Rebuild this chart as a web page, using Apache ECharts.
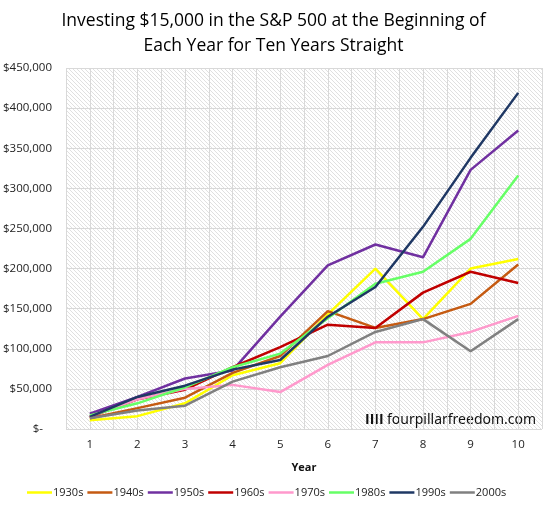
<!DOCTYPE html>
<html><head><meta charset="utf-8">
<script src="https://cdn.jsdelivr.net/npm/echarts@6/dist/echarts.min.js"></script>
<style>html,body{margin:0;padding:0;background:#fff}#c{width:547px;height:511px}</style>
</head><body><div id="c"></div>
<script>
var years = [1,2,3,4,5,6,7,8,9,10];
var decades = ['1930s','1940s','1950s','1960s','1970s','1980s','1990s','2000s'];
var s1930 = [11000, 16000, 32000, 67000, 82000, 143000, 200000, 137000, 200000, 212000];
var s1940 = [13500, 26000, 39000, 70000, 91000, 147000, 126000, 137000, 156000, 205000];
var s1950 = [19000, 40000, 63000, 73000, 140000, 204000, 230000, 214000, 323000, 372000];
var s1960 = [15000, 37000, 49000, 77000, 102000, 130000, 126000, 170000, 196000, 182000];
var s1970 = [15500, 37000, 50000, 55000, 46000, 80000, 108000, 108000, 121000, 141000];
var s1980 = [17000, 32000, 52000, 77000, 94000, 138000, 181000, 196000, 237000, 316000];
var s1990 = [15000, 40000, 54000, 74000, 86000, 140000, 177000, 252000, 338000, 419000];
var s2000 = [13500, 23000, 29000, 59000, 77000, 91000, 121000, 137000, 97000, 137000];
var yTicks = [0,50000,100000,150000,200000,250000,300000,350000,400000,450000];

var seriesValues = [s1930, s1940, s1950, s1960, s1970, s1980, s1990, s2000];
var colors = ['#FFFF00','#C55A11','#7030A0','#C00000','#FF99CC','#66FF66','#1F3864','#808080'];

var pc = document.createElement('canvas');
pc.width = 4; pc.height = 4;
var px = pc.getContext('2d');
px.fillStyle = '#ffffff'; px.fillRect(0,0,4,4);
px.fillStyle = '#e0e0e0';
for (var i=0;i<4;i++){ px.fillRect(i,i,1,1); }

var font = '"Open Sans", "Noto Sans", sans-serif';
var chart = echarts.init(document.getElementById('c'), null, {renderer:'canvas'});
var series = decades.map(function(d, k){
  return {
    name: d, type: 'line', symbol: 'none', smooth: false,
    lineStyle: {width: 2.5, color: colors[k]}, itemStyle: {color: colors[k]},
    data: years.map(function(y, j){ return [y, seriesValues[k][j]]; })
  };
});
chart.setOption({
  animation: false,
  title: {
    text: 'Investing $15,000 in the S&P 500 at the Beginning of\nEach Year for Ten Years Straight',
    left: 'center', top: 4,
    textStyle: {fontFamily: font, fontSize: 17.5, fontWeight: 'normal', color: '#000', lineHeight: 25}
  },
  grid: {left: 62, right: 5, top: 68, bottom: 82, show: true, borderWidth: 0,
    backgroundColor: {image: pc, repeat: 'repeat'}},
  xAxis: {
    type: 'value', min: 0.5, max: 10.5, interval: 0.5,
    name: 'Year', nameLocation: 'middle', nameGap: 33,
    nameTextStyle: {fontFamily: font, fontSize: 11, fontWeight: 'bold', color: '#111'},
    axisLine: {show: false}, axisTick: {show: false},
    axisLabel: {fontFamily: font, fontSize: 11.5, color: '#222', margin: 10,
      formatter: function(v){ return (Math.abs(v - Math.round(v)) < 1e-6) ? String(Math.round(v)) : ''; }},
    splitLine: {show: true, lineStyle: {color: '#d9d9d9', width: 1}}
  },
  yAxis: {
    type: 'value', min: yTicks[0], max: yTicks[yTicks.length-1], interval: yTicks[1]-yTicks[0],
    axisLine: {show: false}, axisTick: {show: false},
    axisLabel: {fontFamily: font, fontSize: 11.5, color: '#222', margin: 14,
      formatter: function(v){ return v === 0 ? '$-   ' : '$' + v.toLocaleString('en-US'); }},
    splitLine: {show: true, lineStyle: {color: '#d9d9d9', width: 1}}
  },
  legend: {
    bottom: 8, left: 22, icon: 'rect', itemWidth: 25, itemHeight: 2.5, itemGap: 4,
    textStyle: {fontFamily: font, fontSize: 11, color: '#222', padding: [0,0,0,-4]},
    data: decades
  },
  graphic: [{
    type: 'text', left: 365, top: 413,
    style: {text: 'IIII', font: 'bold 14px "Open Sans", sans-serif', fill: '#111'}
  }, {
    type: 'text', left: 387, top: 413,
    style: {text: 'fourpillarfreedom.com', font: '14px "Noto Sans", sans-serif', fill: '#111'}
  }],
  series: series
});
</script></body></html>
